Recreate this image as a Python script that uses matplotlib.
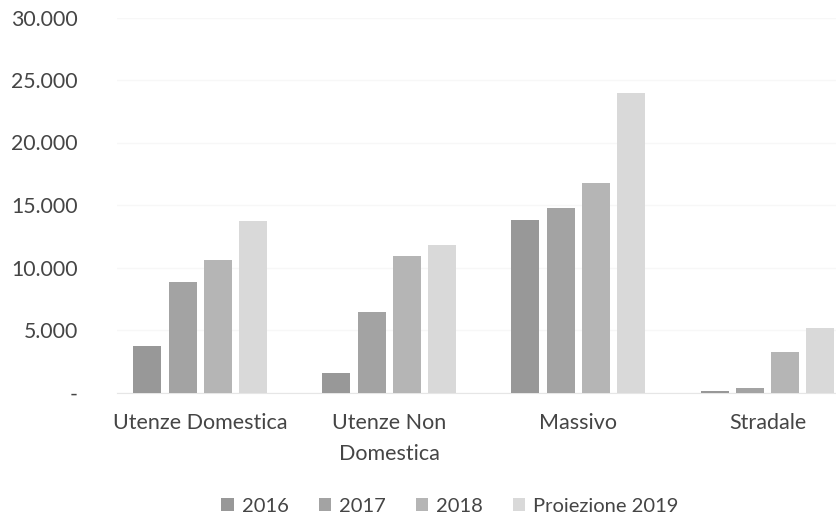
import numpy as np
import matplotlib
matplotlib.use("Agg")
import matplotlib.pyplot as plt
from matplotlib.ticker import FuncFormatter, MultipleLocator

categories = ["Utenze Domestica", "Utenze Non\nDomestica", "Massivo", "Stradale"]
series = ["2016", "2017", "2018", "Proiezione 2019"]
v2016 = [3700, 1550, 13800, 150]
v2017 = [8850, 6450, 14750, 350]
v2018 = [10600, 10900, 16750, 3250]
v2019 = [13750, 11800, 23950, 5150]
colors = ["#989898", "#a3a3a3", "#b5b5b5", "#d9d9d9"]

plt.rcParams["font.family"] = ["Lato", "DejaVu Sans"]
text_col = "#454545"

fig = plt.figure(figsize=(8.37, 5.19), dpi=100)
# plot area runs past the right edge of the figure
ax = fig.add_axes([117 / 837, 1 - 392.5 / 519, 745 / 837, 375 / 519])

x = np.arange(len(categories))
step = 0.1865
width = 0.148
for i, (name, vals) in enumerate(zip(series, [v2016, v2017, v2018, v2019])):
    ax.bar(x + (i - 1.5) * step, vals, width, color=colors[i], label=name, zorder=3)

ax.set_xlim(-0.44, 3.5)
ax.set_ylim(0, 30000)
ax.yaxis.set_major_locator(MultipleLocator(5000))
ax.yaxis.set_major_formatter(FuncFormatter(
    lambda v, p: "-" if v == 0 else "{:,.0f}".format(v).replace(",", ".")))
ax.grid(axis="y", color="#f7f7f7", linewidth=1, zorder=0)
for s in ["top", "right", "left"]:
    ax.spines[s].set_visible(False)
ax.spines["bottom"].set_color("#e6e6e6")
ax.set_xticks(x)
ax.set_xticklabels(categories, fontsize=15.5, color=text_col, linespacing=1.65)
ax.tick_params(axis="both", length=0)
ax.tick_params(axis="x", pad=15)
ax.tick_params(axis="y", labelsize=15.3, labelcolor=text_col, pad=28)

fig.legend(loc="center", bbox_to_anchor=(450 / 837, 1 - 506 / 519), ncol=4,
           frameon=False, fontsize=14.5, labelcolor=text_col, handlelength=0.6,
           handleheight=0.6, handletextpad=0.4, columnspacing=1.5)

fig.savefig("out.png", dpi=100)
